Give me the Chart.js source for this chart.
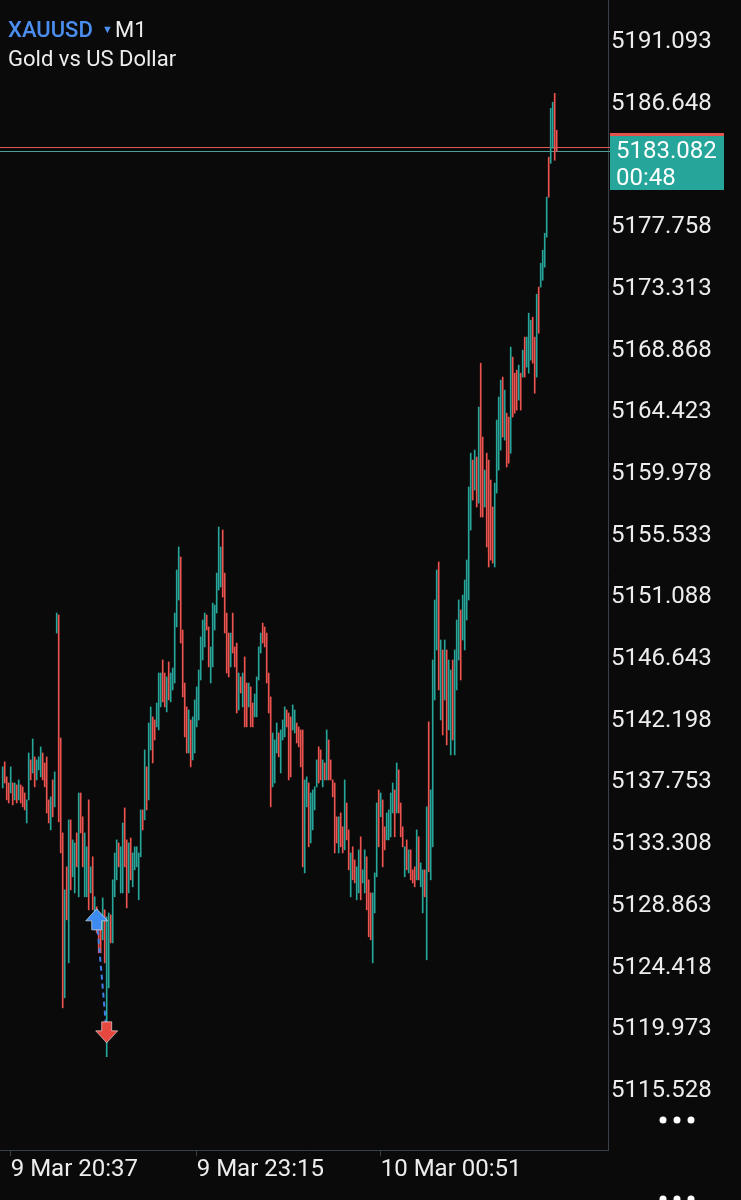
<!DOCTYPE html>
<html>
<head>
<meta charset="utf-8">
<script src="https://cdn.jsdelivr.net/npm/chart.js@4.4.1/dist/chart.umd.min.js"></script>
<style>
  html, body { margin: 0; padding: 0; background: #0a0a0a; }
  canvas { display: block; }
</style>
</head>
<body>
<canvas id="myChart" width="741" height="1200"></canvas>
<script>
// XAUUSD M1 - bars (high / low / bullish flag)
const symbol = 'XAUUSD';
const timeframe = 'M1';
const description = 'Gold vs US Dollar';

const highs = [
  5138.73, 5139.09, 5138.01, 5137.57, 5138.73, 5137.57, 5137.57, 5137.43, 5137.79, 5137.43,
  5137.29, 5136.85, 5136.35, 5139.73, 5139.23, 5140.74, 5139.45, 5139.23, 5139.45, 5140.17,
  5139.73, 5139.01, 5139.45, 5136.35, 5136.57, 5137.79, 5138.37, 5149.81, 5149.67, 5140.81,
  5133.97, 5129.87, 5131.53, 5134.91, 5134.91, 5133.47, 5133.25, 5133.97, 5136.85, 5136.85,
  5135.13, 5133.97, 5132.97, 5136.35, 5131.53, 5132.25, 5129.37, 5128.65, 5127.93, 5127.71,
  5129.29, 5128.43, 5127.93, 5128.21, 5128.07, 5130.59, 5132.53, 5133.47, 5133.25, 5132.97,
  5134.69, 5135.77, 5133.47, 5133.25, 5133.61, 5132.53, 5132.97, 5132.97, 5132.53, 5135.63,
  5135.63, 5139.95, 5138.73, 5141.89, 5143.05, 5142.33, 5142.11, 5143.33, 5145.49, 5145.49,
  5146.43, 5145.49, 5145.21, 5146.29, 5145.49, 5145.85, 5149.81, 5152.91, 5154.57, 5153.85,
  5148.59, 5144.77, 5143.05, 5142.83, 5142.11, 5142.33, 5143.55, 5144.49, 5145.71, 5148.09,
  5149.31, 5149.81, 5149.67, 5148.81, 5147.37, 5150.53, 5150.39, 5152.69, 5156.01, 5154.57,
  5155.79, 5152.69, 5149.81, 5148.37, 5148.37, 5149.81, 5147.37, 5147.65, 5145.49, 5145.21,
  5145.49, 5146.65, 5144.77, 5144.77, 5144.49, 5143.33, 5143.98, 5145.21, 5147.37, 5148.37,
  5149.09, 5148.81, 5148.37, 5145.49, 5143.77, 5141.17, 5140.67, 5141.89, 5141.17, 5141.39,
  5142.11, 5143.05, 5142.83, 5142.61, 5142.33, 5143.19, 5142.83, 5141.89, 5141.61, 5141.39,
  5141.39, 5137.79, 5138.01, 5137.57, 5136.85, 5137.07, 5137.29, 5139.23, 5140.17, 5139.95,
  5139.23, 5139.01, 5141.39, 5140.67, 5139.23, 5137.79, 5137.57, 5135.13, 5135.13, 5135.41,
  5134.41, 5137.79, 5136.13, 5134.19, 5132.53, 5132.97, 5132.03, 5131.53, 5132.75, 5133.69,
  5131.31, 5132.75, 5132.25, 5130.59, 5129.65, 5129.65, 5131.09, 5136.13, 5137.07, 5136.85,
  5136.35, 5134.41, 5135.41, 5135.63, 5136.85, 5137.57, 5137.07, 5139.01, 5138.51, 5136.13,
  5134.41, 5132.97, 5133.47, 5132.75, 5132.75, 5131.31, 5131.53, 5134.19, 5133.69, 5131.81,
  5131.31, 5131.31, 5135.85,
  5141.97, 5137.07, 5146.43, 5150.75, 5152.91, 5153.49, 5147.87, 5147.15, 5147.87, 5147.15,
  5146.43, 5145.71, 5146.43, 5147.15, 5149.31, 5150.75, 5150.03, 5151.11, 5152.19, 5153.63,
  5158.89,
  5161.33, 5160.83, 5161.55, 5161.05, 5164.65, 5167.81, 5162.49, 5160.11, 5161.33, 5160.83,
  5159.39, 5157.45, 5159.17, 5163.71, 5165.37, 5166.59, 5166.81, 5165.87, 5164.21, 5163.93,
  5168.97, 5168.25, 5167.09, 5167.31, 5167.67, 5167.09, 5168.75, 5169.69, 5169.69, 5171.41,
  5170.91, 5171.13, 5169.69, 5172.78, 5173.29, 5175.01, 5175.95, 5177.17, 5179.77, 5182.65,
  5186.17, 5186.61, 5187.25, 5184.59
];

const lows = [
  5137.21, 5137.57, 5136.35, 5136.13, 5136.85, 5135.99, 5136.35, 5136.13, 5136.35, 5136.13,
  5135.85, 5135.63, 5134.69, 5136.35, 5137.79, 5138.29, 5137.29, 5137.79, 5138.51, 5138.01,
  5137.79, 5137.29, 5135.41, 5134.69, 5134.19, 5135.13, 5135.85, 5148.37, 5134.77, 5132.53,
  5121.37, 5122.09, 5127.71, 5124.61, 5129.87, 5130.81, 5129.65, 5131.53, 5129.37, 5133.97,
  5131.53, 5129.37, 5129.37, 5128.43, 5129.65, 5128.43, 5126.99, 5126.77, 5125.33, 5125.33,
  5126.27, 5124.61, 5117.85, 5122.81, 5126.05, 5126.05, 5129.37, 5130.59, 5131.53, 5129.65,
  5129.65, 5131.53, 5128.57, 5129.65, 5130.59, 5130.09, 5131.31, 5131.53, 5129.15, 5132.25,
  5134.19, 5134.91, 5135.63, 5136.35, 5139.95, 5139.01, 5140.67, 5141.61, 5141.39, 5143.05,
  5143.41, 5143.05, 5142.69, 5143.55, 5143.41, 5144.27, 5144.77, 5148.81, 5150.75, 5147.65,
  5143.77, 5140.89, 5139.73, 5139.73, 5138.73, 5139.23, 5139.73, 5141.61, 5142.11, 5144.99,
  5146.43, 5147.37, 5148.59, 5145.93, 5144.77, 5145.93, 5148.59, 5149.81, 5151.47, 5151.69,
  5150.97, 5148.37, 5145.49, 5145.21, 5145.93, 5146.93, 5145.93, 5142.61, 5142.83, 5144.05,
  5143.05, 5141.61, 5141.61, 5143.05, 5141.61, 5141.61, 5142.33, 5142.33, 5144.99, 5146.93,
  5147.65, 5147.37, 5144.77, 5142.61, 5135.85, 5137.29, 5137.57, 5139.73, 5139.45, 5138.29,
  5140.67, 5140.89, 5141.61, 5137.79, 5138.01, 5141.39, 5141.17, 5140.45, 5140.17, 5138.73,
  5131.53, 5131.09, 5135.85, 5132.97, 5133.25, 5134.19, 5135.63, 5137.29, 5137.57, 5137.79,
  5137.29, 5137.79, 5137.79, 5137.79, 5137.79, 5136.57, 5132.53, 5133.25, 5132.53, 5132.97,
  5132.53, 5132.75, 5133.47, 5131.31, 5129.37, 5130.59, 5130.37, 5129.15, 5129.65, 5129.15,
  5130.37, 5129.65, 5128.43, 5126.49, 5126.27, 5124.61, 5128.21, 5130.81, 5132.97, 5135.13,
  5131.53, 5132.75, 5133.47, 5133.47, 5133.69, 5135.41, 5133.69, 5135.41, 5135.41, 5133.69,
  5132.97, 5130.81, 5131.31, 5131.09, 5130.59, 5130.37, 5130.09, 5130.59, 5130.59, 5130.09,
  5128.21, 5129.37, 5124.83,
  5131.17, 5130.59, 5132.97, 5143.55, 5147.15, 5144.27, 5142.11, 5141.03, 5143.55, 5140.31,
  5141.39, 5139.59, 5140.67, 5139.59, 5144.27, 5146.43, 5144.99, 5147.87, 5147.15, 5149.31,
  5150.75,
  5155.79, 5157.95, 5158.67, 5157.45, 5157.73, 5156.73, 5156.73, 5157.45, 5154.57, 5153.13,
  5153.63, 5153.41, 5153.13, 5158.45, 5160.11, 5161.55, 5162.49, 5162.27, 5160.33, 5160.61,
  5161.33, 5163.93, 5164.21, 5164.43, 5165.15, 5164.43, 5166.81, 5166.81, 5167.53, 5167.09,
  5168.03, 5167.81, 5165.65, 5166.81, 5169.97, 5173.29, 5173.79, 5174.73, 5176.89, 5179.77,
  5182.21, 5183.29, 5182.43, 5183.08
];

// 1 = bullish (close > open), 0 = bearish
const ups = [
  1,0,0,0,1,0,1,0,1,0, 0,0,1,1,0,1,0,1,1,1, 0,0,0,0,1,0,1,1,0,0, 0,1,0,1,0,1,1,0,1,0,
  0,1,1,0,1,0,1,0,0,0, 1,0,1,1,0,1,1,1,0,1, 1,0,0,1,0,1,1,1,1,1, 0,1,0,1,1,0,0,1,1,1,
  0,0,1,0,1,1,1,1,1,0, 0,0,0,1,0,1,1,1,1,1, 1,1,0,0,1,1,1,1,1,1, 0,0,0,0,1,0,0,0,1,0,
  1,0,0,1,0,0,1,1,1,1, 0,0,0,0,0,1,1,1,0,1, 1,1,0,0,0,1,1,0,0,0, 0,1,1,0,1,1,1,1,0,0,
  1,0,1,0,0,0,0,0,1,0, 0,1,0,0,1,0,0,1,1,0, 1,1,0,0,0,1,1,1,0,1, 0,0,1,1,1,1,0,1,0,0,
  0,1,0,1,0,0,0,1,0,1, 1,0,1,
  0,1,1,1,1,0,1,0,1,0,1,1,0,1,1,1,0,1,1,1,1,
  1,0,1,0,1,0,0,1,0,0, 0,0,1,1,1,1,0,1,0,0, 1,0,0,0,1,0,1,0,1,1, 1,0,0,1,0,1,1,1,1,0,
  1,1,0,0
];

const timeTickIdx = [4, 97, 189];
const timeLabels = ['9 Mar 20:37', '9 Mar 23:15', '10 Mar 00:51'];

const priceTicks = [
  5115.528, 5119.973, 5124.418, 5128.863, 5133.308, 5137.753, 5142.198, 5146.643, 5151.088,
  5155.533, 5159.978, 5164.423, 5168.868, 5173.313, 5177.758, 5182.203, 5186.648, 5191.093
];

const bidPrice = 5183.082;
const askPrice = 5183.37;
const countdown = '00:48';

// trade markers (bar index, price at arrow tip)
const buyIdx = 47, buyPrice = 5128.50;
const sellIdx = 52, sellPrice = 5118.85;

const upColor = '#26a69a';
const downColor = '#ef5350';
const axisLine = '#3a4047';
const textColor = '#ededed';

Chart.defaults.font.family = 'Roboto';

const candles = highs.map((h, i) => ({ x: i, y: [lows[i], h] }));

function drawArrow(ctx, x, yTip, dir, fill) {
  // dir -1: points up (tip on top), 1: points down
  const hw = 11, sw = 5, hh = 12, sh = 9;
  ctx.beginPath();
  ctx.moveTo(x, yTip);
  ctx.lineTo(x + hw, yTip - dir * hh);
  ctx.lineTo(x + sw, yTip - dir * hh);
  ctx.lineTo(x + sw, yTip - dir * (hh + sh));
  ctx.lineTo(x - sw, yTip - dir * (hh + sh));
  ctx.lineTo(x - sw, yTip - dir * hh);
  ctx.lineTo(x - hw, yTip - dir * hh);
  ctx.closePath();
  ctx.fillStyle = fill;
  ctx.fill();
  ctx.strokeStyle = 'rgba(255,255,255,0.55)';
  ctx.lineWidth = 1;
  ctx.stroke();
}

const overlay = {
  id: 'overlay',
  beforeDatasetsDraw(chart) {
    const ctx = chart.ctx;
    const y = chart.scales.y;
    const yAsk = Math.round(y.getPixelForValue(askPrice)) + 0.5;
    const yBid = Math.round(y.getPixelForValue(bidPrice)) + 0.5;
    ctx.save();
    ctx.lineWidth = 1.2;
    ctx.strokeStyle = '#e0574f';
    ctx.beginPath(); ctx.moveTo(0, yAsk); ctx.lineTo(610, yAsk); ctx.stroke();
    ctx.strokeStyle = '#4f9f96';
    ctx.beginPath(); ctx.moveTo(0, yBid); ctx.lineTo(610, yBid); ctx.stroke();
    ctx.restore();
  },
  afterDraw(chart) {
    const ctx = chart.ctx;
    const x = chart.scales.x;
    const y = chart.scales.y;
    ctx.save();

    // trade arrows + dashed connector
    const bx = x.getPixelForValue(buyIdx), by = y.getPixelForValue(buyPrice);
    const sx = x.getPixelForValue(sellIdx), sy = y.getPixelForValue(sellPrice);
    ctx.setLineDash([5, 4]);
    ctx.strokeStyle = '#3f7fe8';
    ctx.lineWidth = 2;
    ctx.beginPath(); ctx.moveTo(bx + 1, by + 21); ctx.lineTo(sx - 1, sy - 21); ctx.stroke();
    ctx.setLineDash([]);
    drawArrow(ctx, bx, by, -1, '#3d8bf0');
    drawArrow(ctx, sx, sy, 1, '#e5483f');

    // current price box
    const yBid = y.getPixelForValue(bidPrice);
    ctx.fillStyle = '#26a69a';
    ctx.fillRect(610, Math.round(yBid) - 18, 114, 57);
    ctx.fillStyle = '#e0524b';
    ctx.fillRect(610, Math.round(yBid) - 18, 114, 3);
    ctx.fillStyle = '#ffffff';
    ctx.font = '24px Roboto';
    ctx.textBaseline = 'middle';
    ctx.textAlign = 'left';
    ctx.fillText(bidPrice.toFixed(3), 616, yBid + 1);
    ctx.fillText(countdown, 616, yBid + 28);

    // symbol header
    ctx.textBaseline = 'alphabetic';
    ctx.font = '500 22px Roboto';
    ctx.fillStyle = '#4b8ef0';
    ctx.fillText(symbol, 8, 37);
    ctx.font = '11px Roboto';
    ctx.fillText('\u25BC', 102, 33);
    ctx.font = '22px Roboto';
    ctx.fillStyle = textColor;
    ctx.fillText(timeframe, 115, 37);
    ctx.fillText(description, 8, 66);

    // menu dots
    ctx.fillStyle = '#ffffff';
    [663, 677, 691].forEach(cx => {
      ctx.beginPath(); ctx.arc(cx, 1120, 3.5, 0, Math.PI * 2); ctx.fill();
      ctx.beginPath(); ctx.arc(cx, 1199, 3.5, 0, Math.PI * 2); ctx.fill();
    });
    ctx.restore();
  }
};

const ctx = document.getElementById('myChart').getContext('2d');
const myChart = new Chart(ctx, {
  type: 'bar',
  data: {
    datasets: [{
      label: symbol,
      data: candles,
      backgroundColor: ups.map(u => (u ? upColor : downColor)),
      borderWidth: 0,
      barThickness: 1,
      grouped: false
    }]
  },
  options: {
    responsive: false,
    animation: false,
    events: [],
    layout: { padding: 0 },
    plugins: { legend: { display: false }, tooltip: { enabled: false } },
    scales: {
      x: {
        type: 'linear',
        min: -1.35,
        max: 302.65,
        offset: false,
        grid: { display: true, offset: false, drawOnChartArea: false, drawTicks: true, tickLength: 6, color: axisLine },
        border: { display: true, color: axisLine },
        ticks: {
          color: textColor,
          font: { size: 24 },
          padding: 0,
          align: 'start',
          maxRotation: 0,
          autoSkip: false,
          callback: (v) => {
            const k = timeTickIdx.indexOf(v);
            return k >= 0 ? timeLabels[k] : '';
          }
        },
        afterBuildTicks: (s) => { s.ticks = timeTickIdx.map(v => ({ value: v })); },
        afterFit: (s) => { s.height = 50; s.paddingLeft = 0; s.paddingRight = 0; }
      },
      y: {
        position: 'right',
        min: 5111.129,
        max: 5193.975,
        grid: { display: false },
        border: { display: true, color: axisLine },
        ticks: {
          color: textColor,
          font: { size: 24 },
          padding: -5,
          labelOffset: 2,
          callback: (v) => Number(v).toFixed(3)
        },
        afterBuildTicks: (s) => { s.ticks = priceTicks.map(v => ({ value: v })); },
        afterFit: (s) => { s.width = 133; s.paddingTop = 0; s.paddingBottom = 0; }
      }
    }
  },
  plugins: [overlay]
});
</script>
</body>
</html>
